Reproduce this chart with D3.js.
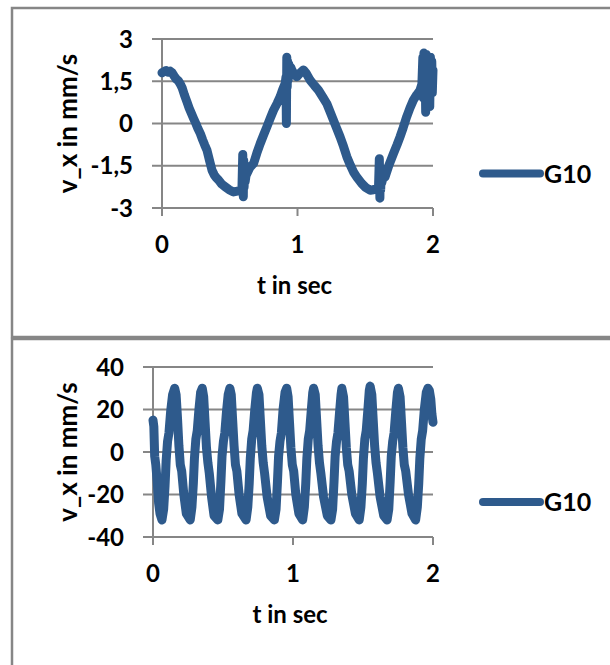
<!DOCTYPE html>
<html>
<head>
<meta charset="utf-8">
<script src="https://cdn.jsdelivr.net/npm/d3@7"></script>
<style>
body { margin: 0; background: #fff; }
text { font-family: Lato, "Open Sans", sans-serif; font-weight: bold; fill: #000; }
</style>
</head>
<body>
<script>
var seriesName = "G10";
var xTicks = [0, 1, 2];
var topYTicks = [-3, -1.5, 0, 1.5, 3];
var topYLabels = ["-3", "-1,5", "0", "1,5", "3"];
var bottomYTicks = [-40, -20, 0, 20, 40];
var bottomYLabels = ["-40", "-20", "0", "20", "40"];

// upper panel, t in sec / v_x in mm/s
var topT = [0.000,0.015,0.030,0.045,0.060,0.075,0.090,0.105,0.120,0.135,0.150,0.165,0.184,0.200,0.215,0.233,0.250,0.265,0.283,0.300,
  0.315,0.332,0.350,0.369,0.385,0.400,0.418,0.440,0.467,0.495,0.528,0.555,0.577,0.590,0.596,0.600,0.603,0.606,0.610,0.614,
  0.620,0.627,0.650,0.676,0.700,0.725,0.750,0.774,0.800,0.823,0.850,0.872,0.890,0.909,0.915,0.918,0.921,0.924,0.927,0.931,
  0.936,0.942,0.950,0.958,0.975,0.995,1.020,1.044,1.065,1.093,1.125,1.155,1.185,1.216,1.240,1.265,1.290,1.314,1.340,1.364,
  1.390,1.413,1.440,1.474,1.505,1.536,1.560,1.585,1.598,1.604,1.608,1.611,1.614,1.618,1.622,1.630,1.646,1.675,1.708,1.735,
  1.757,1.780,1.806,1.830,1.855,1.880,1.904,1.918,1.925,1.929,1.933,1.937,1.941,1.946,1.951,1.956,1.961,1.966,1.971,1.976,
  1.981,1.986,1.991,1.995,2.000];
var topV = [1.80,1.84,1.88,1.82,1.86,1.80,1.68,1.58,1.52,1.40,1.25,1.02,0.77,0.55,0.38,0.18,0.00,-0.18,-0.36,-0.58,
  -0.76,-0.95,-1.30,-1.66,-1.82,-1.92,-2.01,-2.15,-2.25,-2.35,-2.43,-2.40,-2.37,-2.30,-1.10,-2.60,-1.30,-2.25,-1.60,-2.05,
  -1.85,-1.78,-1.55,-1.42,-1.05,-0.71,-0.40,-0.12,0.20,0.47,0.72,0.95,1.20,1.42,1.65,0.00,2.35,1.30,2.20,1.55,
  2.10,1.70,2.00,1.90,1.75,1.66,1.80,1.90,1.78,1.54,1.35,1.18,0.95,0.71,0.42,0.12,-0.18,-0.47,-0.82,-1.18,
  -1.48,-1.72,-1.92,-2.13,-2.28,-2.37,-2.35,-2.31,-2.25,-1.25,-2.65,-1.55,-2.35,-1.70,-2.10,-1.95,-1.90,-1.48,-1.07,-0.75,
  -0.47,-0.15,0.24,0.55,0.83,1.02,1.18,1.40,2.35,0.90,2.50,1.20,2.40,0.40,2.45,1.00,2.30,1.50,2.10,0.60,
  2.35,1.40,2.20,1.10,1.90];

// lower panel
var bottomT = [0.000,0.006,0.012,0.020,0.030,0.040,0.050,0.064,
  0.076,0.086,0.094,0.104,0.114,0.126,0.140,0.155,0.165,0.175,0.185,0.195,0.205,0.220,0.238,0.266,
  0.278,0.288,0.296,0.306,0.316,0.328,0.340,0.352,0.362,0.372,0.382,0.392,0.402,0.418,0.436,0.463,
  0.475,0.485,0.493,0.503,0.513,0.525,0.537,0.549,0.559,0.569,0.579,0.589,0.599,0.615,0.635,0.665,
  0.677,0.687,0.695,0.705,0.715,0.727,0.739,0.745,0.757,0.767,0.777,0.787,0.797,0.815,0.840,0.867,
  0.879,0.889,0.897,0.907,0.917,0.929,0.943,0.955,0.965,0.975,0.985,0.995,1.005,1.020,1.042,1.069,
  1.081,1.091,1.099,1.109,1.119,1.131,1.141,1.147,1.159,1.169,1.179,1.189,1.199,1.218,1.245,1.271,
  1.283,1.293,1.301,1.311,1.321,1.333,1.343,1.349,1.361,1.371,1.381,1.391,1.401,1.420,1.446,1.473,
  1.485,1.495,1.503,1.513,1.523,1.535,1.545,1.551,1.563,1.573,1.583,1.593,1.603,1.622,1.648,1.672,
  1.684,1.694,1.702,1.712,1.722,1.734,1.746,1.753,1.765,1.775,1.785,1.795,1.805,1.825,1.850,1.876,
  1.888,1.898,1.906,1.916,1.926,1.938,1.952,1.964,1.974,1.984,1.992,2.000];
var bottomV = [15,12,-2,-6,-14,-24,-29,-32,
  -27,-16,-4,5,9,19,27,30,27,16,3,-6,-9,-20,-29,-32,
  -26,-15,-3,6,10,20,28,30,26,14,2,-5,-10,-21,-30,-32,
  -27,-14,-2,5,9,19,27,30,27,15,3,-6,-9,-20,-29,-32,
  -26,-15,-3,6,10,20,28,30,27,15,3,-5,-10,-21,-30,-32,
  -27,-14,-2,5,9,20,28,30,26,14,2,-6,-9,-20,-29,-32,
  -26,-15,-3,6,10,20,28,30,27,15,3,-5,-10,-21,-30,-32,
  -27,-14,-2,5,9,19,27,30,26,14,2,-6,-9,-20,-29,-32,
  -26,-15,-3,6,10,20,29,31,27,15,3,-5,-10,-21,-30,-32,
  -27,-14,-2,5,9,19,28,30,26,14,2,-6,-9,-20,-29,-32,
  -26,-15,-3,6,10,20,28,30,29,25,18,14];

var lineColor = "#2e5a8c";
var gridColor = "#868686";

var svg = d3.select("body").append("svg")
  .attr("width", 610)
  .attr("height", 665);

svg.append("rect").attr("width", 610).attr("height", 665).attr("fill", "#fff");

//panel frames (right side runs off the picture)
svg.append("rect")
  .attr("x", 12).attr("y", 8).attr("width", 620).attr("height", 329)
  .attr("fill", "none").attr("stroke", gridColor).attr("stroke-width", 2.5);
svg.append("rect")
  .attr("x", 12).attr("y", 339).attr("width", 620).attr("height", 340)
  .attr("fill", "none").attr("stroke", gridColor).attr("stroke-width", 2.5);

function drawPanel(p) {
  var x = d3.scaleLinear().domain([0, 2]).range([p.left, p.right]);
  var y = d3.scaleLinear().domain(p.yDomain).range([p.bottom, p.top]);
  var g = svg.append("g");

  // horizontal gridlines
  g.selectAll(".grid")
    .data(p.yTicks)
    .enter().append("line")
    .attr("x1", p.left - 10).attr("x2", p.right)
    .attr("y1", function (d) { return y(d); })
    .attr("y2", function (d) { return y(d); })
    .attr("stroke", gridColor).attr("stroke-width", 2);

  // y axis
  g.append("line")
    .attr("x1", p.left).attr("x2", p.left)
    .attr("y1", p.top).attr("y2", p.bottom + 8)
    .attr("stroke", gridColor).attr("stroke-width", 2);

  // x tick marks
  g.selectAll(".xt")
    .data(xTicks)
    .enter().append("line")
    .attr("x1", function (d) { return x(d); })
    .attr("x2", function (d) { return x(d); })
    .attr("y1", p.bottom).attr("y2", p.bottom + 8)
    .attr("stroke", gridColor).attr("stroke-width", 2);

  g.selectAll(".yl")
    .data(p.yTicks)
    .enter().append("text")
    .attr("x", p.left - 29)
    .attr("y", function (d) { return y(d); })
    .attr("dy", "0.36em")
    .attr("text-anchor", "end")
    .style("font-size", "24px")
    .text(function (d, i) { return p.yLabels[i]; });

  g.selectAll(".xl")
    .data(xTicks)
    .enter().append("text")
    .attr("x", function (d) { return x(d); })
    .attr("y", p.bottom + 45)
    .attr("text-anchor", "middle")
    .style("font-size", "24px")
    .text(function (d) { return d; });

  g.append("text")
    .attr("x", (p.left + p.right) / 2 - 3)
    .attr("y", p.bottom + 86)
    .attr("text-anchor", "middle")
    .style("font-size", "24px")
    .text("t in sec");

  g.append("text")
    .attr("transform", "translate(77," + ((p.top + p.bottom) / 2) + ") rotate(-90)")
    .attr("text-anchor", "middle")
    .style("font-size", "26px")
    .text("v_x in mm/s");

  var line = d3.line()
    .x(function (d) { return x(d[0]); })
    .y(function (d) { return y(d[1]); });

  g.append("path")
    .datum(d3.zip(p.t, p.v))
    .attr("d", line)
    .attr("fill", "none")
    .attr("stroke", lineColor)
    .attr("stroke-width", 9)
    .attr("stroke-linejoin", "round")
    .attr("stroke-linecap", "round");

  // legend
  var ly = (p.top + p.bottom) / 2 + 50;
  g.append("line")
    .attr("x1", 483).attr("x2", 540)
    .attr("y1", ly).attr("y2", ly)
    .attr("stroke", lineColor).attr("stroke-width", 8)
    .attr("stroke-linecap", "round");
  g.append("text")
    .attr("x", 544).attr("y", ly)
    .attr("dy", "0.36em")
    .style("font-size", "25px")
    .text(seriesName);
}

drawPanel({ left: 162, right: 433, top: 39, bottom: 208,
  yDomain: [-3, 3], yTicks: topYTicks, yLabels: topYLabels, t: topT, v: topV });
drawPanel({ left: 153, right: 433, top: 367, bottom: 537,
  yDomain: [-40, 40], yTicks: bottomYTicks, yLabels: bottomYLabels, t: bottomT, v: bottomV });
</script>
</body>
</html>
